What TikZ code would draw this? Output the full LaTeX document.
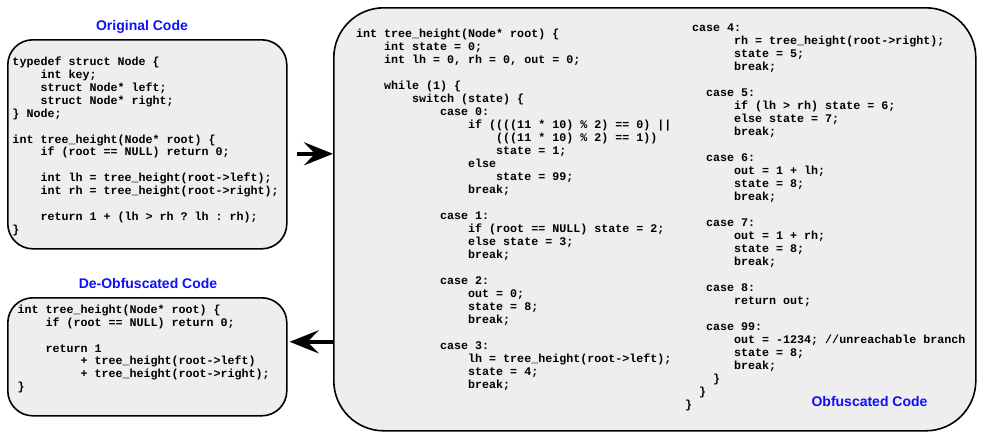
\documentclass[tikz,border=0pt]{standalone}
\usepackage{fontspec}
\setmainfont{Liberation Sans}
\newfontfamily\codefont{Liberation Mono}
\usetikzlibrary{arrows.meta}
\definecolor{boxfill}{RGB}{238,238,238}
\definecolor{titleblue}{RGB}{15,15,250}
\newlength\cw
\setlength\cw{7.002pt}
\newcommand\ind[1]{\hspace*{#1\cw}}
\tikzset{
  codebox/.style={draw=black, line width=1.6pt, fill=boxfill, inner sep=0pt, anchor=north west},
  codetext/.style={anchor=base west, inner sep=0pt, align=left,
    font=\codefont\bfseries\fontsize{11.67}{#1}\selectfont},
  codetext/.default=12.85,
  boxtitle/.style={anchor=base, inner sep=0pt, text=titleblue,
    font=\bfseries\fontsize{14}{16}\selectfont},
  bigarrow/.style={line width=4.5pt, -{Stealth[length=29pt,width=23pt,inset=11pt]}}
}
\begin{document}
\frenchspacing
\lineskiplimit=-20pt
\begin{tikzpicture}[x=1pt,y=-1pt]
\useasboundingbox (0,0) rectangle (983,440);

% boxes
\node[codebox, rounded corners=25pt, minimum width=279pt, minimum height=209pt] (orig) at (7,39) {};
\node[codebox, rounded corners=25pt, minimum width=279pt, minimum height=118pt] (deob) at (7,297) {};
\node[codebox, rounded corners=50pt, minimum width=642pt, minimum height=423pt] (big) at (333,7) {};

% titles
\node[boxtitle] (t1) at (142,30) {Original Code};
\node[boxtitle] (t2) at (148,288) {De-Obfuscated Code};
\node[boxtitle] (t3) at (869.5,406) {Obfuscated Code};

% original code (anchored at the baseline of its last line)
\node[codetext] (origcode) at (12.3,233) {%
typedef struct Node \{\\
\ind{4}int key;\\
\ind{4}struct Node* left;\\
\ind{4}struct Node* right;\\
\} Node;\\
\mbox{}\\
int tree\_height(Node* root) \{\\
\ind{4}if (root == NULL) return 0;\\
\mbox{}\\
\ind{4}int lh = tree\_height(root->left);\\
\ind{4}int rh = tree\_height(root->right);\\
\mbox{}\\
\ind{4}return 1 + (lh > rh ? lh : rh);\\
\}};

% de-obfuscated code
\node[codetext] (deobcode) at (17.3,390.6) {%
int tree\_height(Node* root) \{\\
\ind{4}if (root == NULL) return 0;\\
\mbox{}\\
\ind{4}return 1\\
\ind{9}+ tree\_height(root->left)\\
\ind{9}+ tree\_height(root->right);\\
\}};

% obfuscated code, left column
\node[codetext=13] (obfleft) at (356,388) {%
int tree\_height(Node* root) \{\\
\ind{4}int state = 0;\\
\ind{4}int lh = 0, rh = 0, out = 0;\\
\mbox{}\\
\ind{4}while (1) \{\\
\ind{8}switch (state) \{\\
\ind{12}case 0:\\
\ind{16}if ((((11 * 10) \% 2) == 0) ||\\
\ind{20}(((11 * 10) \% 2) == 1))\\
\ind{20}state = 1;\\
\ind{16}else\\
\ind{20}state = 99;\\
\ind{16}break;\\
\mbox{}\\
\ind{12}case 1:\\
\ind{16}if (root == NULL) state = 2;\\
\ind{16}else state = 3;\\
\ind{16}break;\\
\mbox{}\\
\ind{12}case 2:\\
\ind{16}out = 0;\\
\ind{16}state = 8;\\
\ind{16}break;\\
\mbox{}\\
\ind{12}case 3:\\
\ind{16}lh = tree\_height(root->left);\\
\ind{16}state = 4;\\
\ind{16}break;};

% obfuscated code, right column
\node[codetext=13] (obfright) at (685,408) {%
\ind{1}case 4:\\
\ind{7}rh = tree\_height(root->right);\\
\ind{7}state = 5;\\
\ind{7}break;\\
\mbox{}\\
\ind{3}case 5:\\
\ind{7}if (lh > rh) state = 6;\\
\ind{7}else state = 7;\\
\ind{7}break;\\
\mbox{}\\
\ind{3}case 6:\\
\ind{7}out = 1 + lh;\\
\ind{7}state = 8;\\
\ind{7}break;\\
\mbox{}\\
\ind{3}case 7:\\
\ind{7}out = 1 + rh;\\
\ind{7}state = 8;\\
\ind{7}break;\\
\mbox{}\\
\ind{3}case 8:\\
\ind{7}return out;\\
\mbox{}\\
\ind{3}case 99:\\
\ind{7}out = -1234; //unreachable branch\\
\ind{7}state = 8;\\
\ind{7}break;\\
\ind{4}\}\\
\ind{2}\}\\
\}};

% arrows
\draw[bigarrow] ([shift={(9pt,-9.5pt)}]orig.east) coordinate (a1) -- (a1 -| big.west);
\coordinate (b1) at ([shift={(2pt,15pt)}]deob.east);
\draw[bigarrow] (b1 -| big.west) -- (b1);
\end{tikzpicture}
\end{document}
